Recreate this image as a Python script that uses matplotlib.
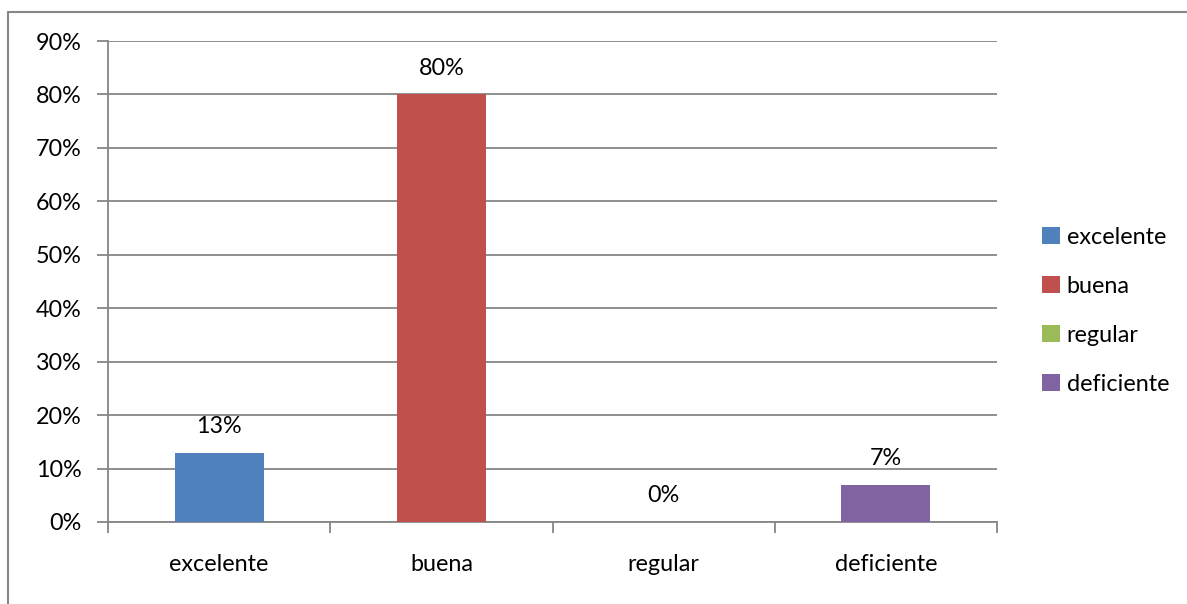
import matplotlib.pyplot as plt
from matplotlib.patches import Rectangle, Patch
from matplotlib.ticker import PercentFormatter

plt.rcParams['font.family'] = ['Lato', 'DejaVu Sans']

categories = ["excelente", "buena", "regular", "deficiente"]
values = [0.13, 0.80, 0.00, 0.07]
labels = ["13%", "80%", "0%", "7%"]
colors = ["#4F81BD", "#C0504D", "#9BBB59", "#8064A2"]
yticks = [0, 0.1, 0.2, 0.3, 0.4, 0.5, 0.6, 0.7, 0.8, 0.9]

W, H = 1187, 604
fig = plt.figure(figsize=(W / 100, H / 100), dpi=100)
ax = fig.add_axes([108 / W, 1 - 522 / H, (997 - 108) / W, (522 - 41) / H])

grey = "#868686"
fs = 16.8
x = range(len(categories))
bars = ax.bar(x, values, width=0.4, color=colors, zorder=3)
for xi, v, lab in zip(x, values, labels):
    ax.annotate(lab, (xi, v), xytext=(0, 19), textcoords="offset points",
                ha="center", va="center", fontsize=fs, color="black")

ax.set_xlim(-0.5, 3.5)
ax.set_ylim(0, 0.9)
ax.set_yticks(yticks)
ax.yaxis.set_major_formatter(PercentFormatter(1.0, decimals=0))
ax.grid(axis="y", color=grey, linewidth=1.3, zorder=0)

ax.set_xticks([-0.5, 0.5, 1.5, 2.5, 3.5])
ax.set_xticklabels([])
ax.set_xticks(list(x), minor=True)
ax.set_xticklabels(categories, minor=True)
ax.tick_params(axis="x", which="major", length=8, width=1.3, color=grey)
ax.tick_params(axis="x", which="minor", length=0, pad=23, labelsize=fs)
ax.tick_params(axis="y", length=8, width=1.3, color=grey, pad=11, labelsize=fs)

for s in ["top", "right"]:
    ax.spines[s].set_visible(False)
for s in ["left", "bottom"]:
    ax.spines[s].set_color(grey)
    ax.spines[s].set_linewidth(1.3)

handles = [Patch(facecolor=c, label=n) for c, n in zip(colors, categories)]
fig.legend(handles=handles, loc="center left", bbox_to_anchor=(1021 / W, 1 - 311 / H),
           frameon=False, fontsize=fs, handlelength=0.75, handleheight=0.75,
           handletextpad=0.3, labelspacing=1.2)

fig.patches.append(Rectangle((8 / W, -0.1), 1.2, 1 - 12 / H + 0.1, transform=fig.transFigure,
                             fill=False, edgecolor="#878787", linewidth=1.5))

fig.savefig("out.png", dpi=100)
